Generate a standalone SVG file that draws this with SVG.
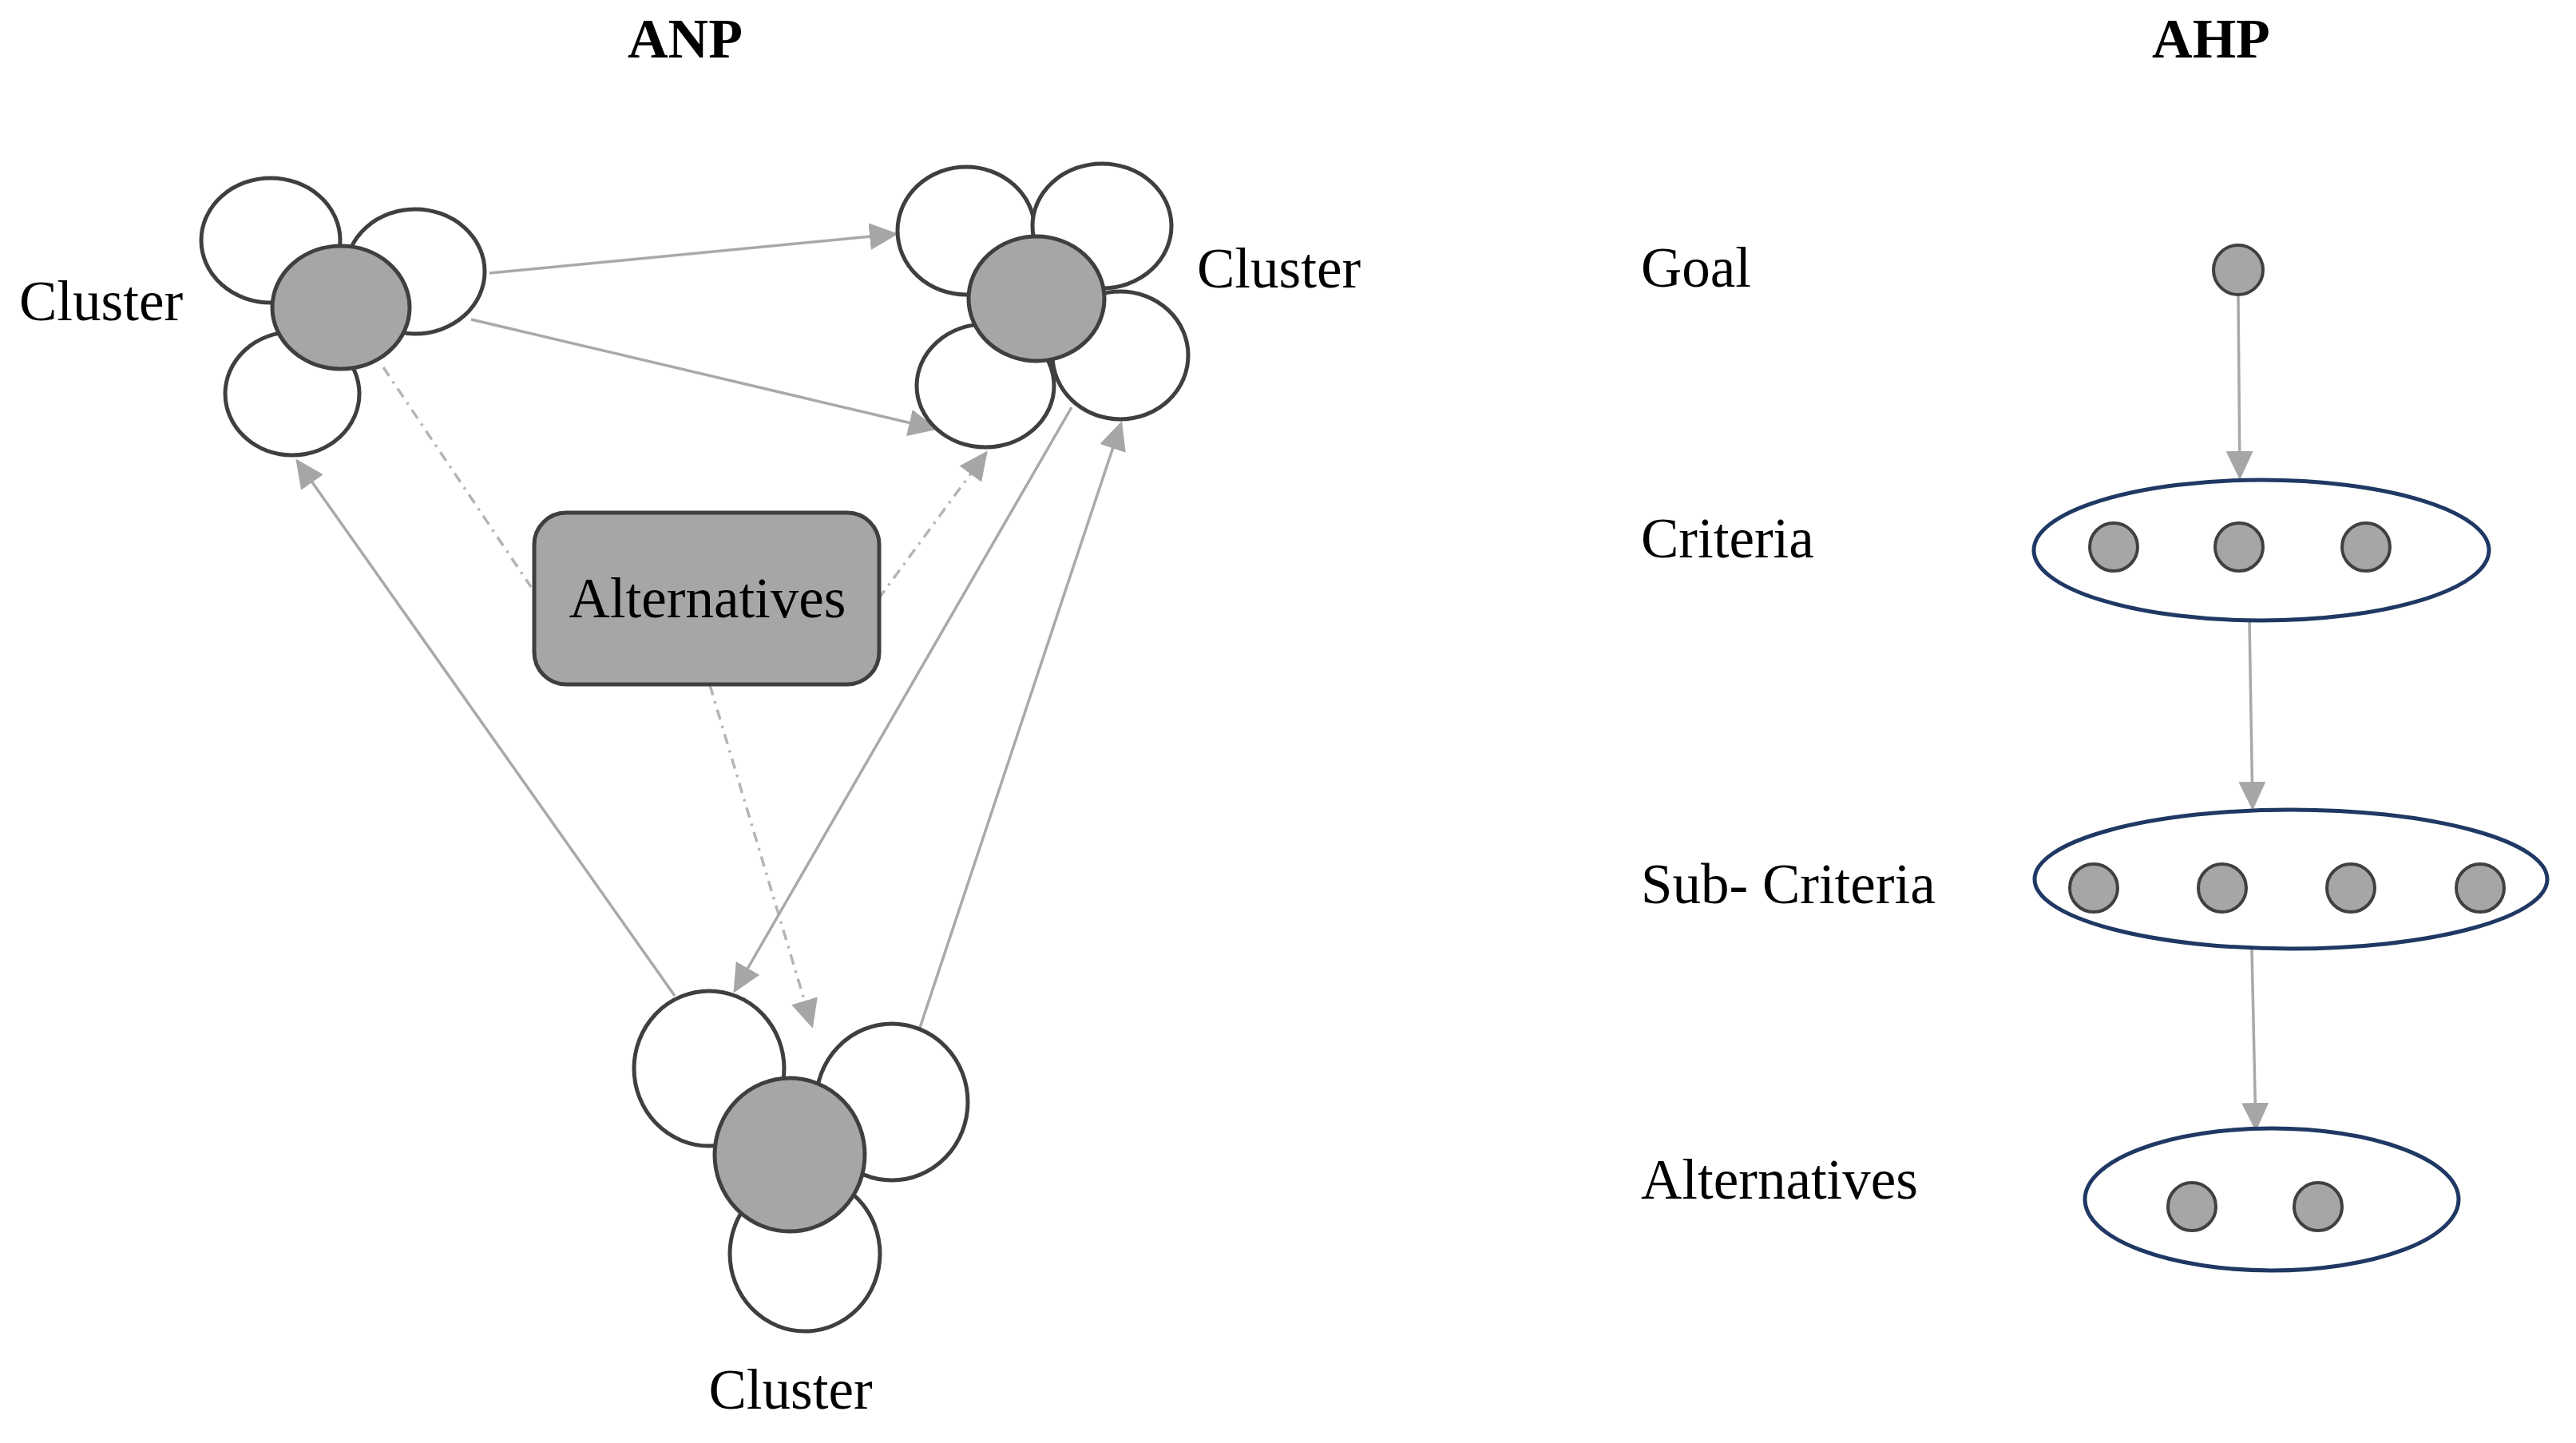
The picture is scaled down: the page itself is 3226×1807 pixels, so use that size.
<svg xmlns="http://www.w3.org/2000/svg" width="3226" height="1807" viewBox="0 0 3226 1807">
  <style>
    .bg { fill: #ffffff; }
    .petal { fill: #ffffff; stroke: #3f3f3f; stroke-width: 5; }
    .core { fill: #a6a6a6; stroke: #3f3f3f; stroke-width: 5; }
    .dot { fill: #a6a6a6; stroke: #404040; stroke-width: 4; }
    .group { fill: #ffffff; stroke: #1f3864; stroke-width: 5; }
    .lbl { font-family: "Liberation Serif", "Times New Roman", serif; font-size: 71px; fill: #000000; }
    .title { font-family: "Liberation Serif", "Times New Roman", serif; font-size: 70px; font-weight: bold; fill: #000000; }
    .conn { stroke: #a9a9a9; stroke-width: 3.5; fill: none; }
    .dash { stroke: #b4b4b4; stroke-width: 3.5; fill: none; stroke-dasharray: 13 8 3 8; }
  </style>
  <defs>
    <marker id="arrow" markerUnits="userSpaceOnUse" markerWidth="40" markerHeight="36" refX="33" refY="17" orient="auto">
      <path d="M0,0 L36,17 L0,34 Z" fill="#a6a6a6"/>
    </marker>
  </defs>
  <rect class="bg" x="0" y="0" width="3226" height="1807"/>

  <text id="title-anp" class="title" x="858" y="72" text-anchor="middle">ANP</text>
  <text id="title-ahp" class="title" x="2769" y="72" text-anchor="middle">AHP</text>

  <g id="connectors">
    <line class="conn" x1="613" y1="342" x2="1122" y2="293" marker-end="url(#arrow)"/>
    <line class="conn" x1="590" y1="400" x2="1171" y2="537" marker-end="url(#arrow)"/>
    <line class="dash" x1="480" y1="460" x2="665" y2="735"/>
    <line class="dash" x1="1100" y1="750" x2="1235" y2="567" marker-end="url(#arrow)"/>
    <line class="dash" x1="889" y1="858" x2="1017" y2="1285" marker-end="url(#arrow)"/>
    <line class="conn" x1="1342" y1="510" x2="920" y2="1241" marker-end="url(#arrow)"/>
    <line class="conn" x1="1152" y1="1287" x2="1404" y2="530" marker-end="url(#arrow)"/>
    <line class="conn" x1="845" y1="1247" x2="372" y2="577" marker-end="url(#arrow)"/>
    <line class="conn" x1="2803" y1="371" x2="2805" y2="598" marker-end="url(#arrow)"/>
    <line class="conn" x1="2817" y1="777" x2="2821" y2="1012" marker-end="url(#arrow)"/>
    <line class="conn" x1="2820" y1="1188" x2="2825" y2="1414" marker-end="url(#arrow)"/>
  </g>

  <g id="cluster-top-left">
    <ellipse class="petal" cx="339" cy="301" rx="87" ry="78"/>
    <ellipse class="petal" cx="520" cy="340" rx="87" ry="78"/>
    <ellipse class="petal" cx="366" cy="493" rx="84" ry="77"/>
    <ellipse class="core" cx="427" cy="385" rx="86" ry="77"/>
    <text class="lbl" x="24" y="401">Cluster</text>
  </g>

  <g id="cluster-top-right">
    <ellipse class="petal" cx="1210" cy="289" rx="86" ry="80"/>
    <ellipse class="petal" cx="1380" cy="283" rx="87" ry="78"/>
    <ellipse class="petal" cx="1234" cy="483" rx="86" ry="77"/>
    <ellipse class="petal" cx="1403" cy="445" rx="85" ry="80"/>
    <ellipse class="core" cx="1298" cy="374" rx="85" ry="78"/>
    <text class="lbl" x="1499" y="360">Cluster</text>
  </g>

  <g id="cluster-bottom">
    <ellipse class="petal" cx="888" cy="1338" rx="94" ry="97"/>
    <ellipse class="petal" cx="1117" cy="1380" rx="95" ry="98"/>
    <ellipse class="petal" cx="1008" cy="1570" rx="94" ry="97"/>
    <ellipse class="core" cx="989" cy="1446" rx="94" ry="96"/>
    <text class="lbl" x="990" y="1764" text-anchor="middle">Cluster</text>
  </g>

  <g id="anp-alternatives">
    <rect class="core" x="669" y="642" width="432" height="215" rx="40" ry="40"/>
    <text class="lbl" x="886" y="773" text-anchor="middle">Alternatives</text>
  </g>

  <g id="ahp-goal">
    <text class="lbl" x="2055" y="359">Goal</text>
    <circle class="dot" cx="2803" cy="338" r="31"/>
  </g>

  <g id="ahp-criteria">
    <text class="lbl" x="2055" y="698">Criteria</text>
    <ellipse class="group" cx="2832" cy="689" rx="285" ry="88"/>
    <circle class="dot" cx="2647" cy="685" r="30"/>
    <circle class="dot" cx="2804" cy="685" r="30"/>
    <circle class="dot" cx="2963" cy="685" r="30"/>
  </g>

  <g id="ahp-subcriteria">
    <text class="lbl" x="2055" y="1131">Sub- Criteria</text>
    <ellipse class="group" cx="2869" cy="1101" rx="321" ry="87"/>
    <circle class="dot" cx="2622" cy="1112" r="30"/>
    <circle class="dot" cx="2783" cy="1112" r="30"/>
    <circle class="dot" cx="2944" cy="1112" r="30"/>
    <circle class="dot" cx="3106" cy="1112" r="30"/>
  </g>

  <g id="ahp-alternatives">
    <text class="lbl" x="2055" y="1501">Alternatives</text>
    <ellipse class="group" cx="2845" cy="1502" rx="234" ry="89"/>
    <circle class="dot" cx="2745" cy="1511" r="30"/>
    <circle class="dot" cx="2903" cy="1511" r="30"/>
  </g>
</svg>
